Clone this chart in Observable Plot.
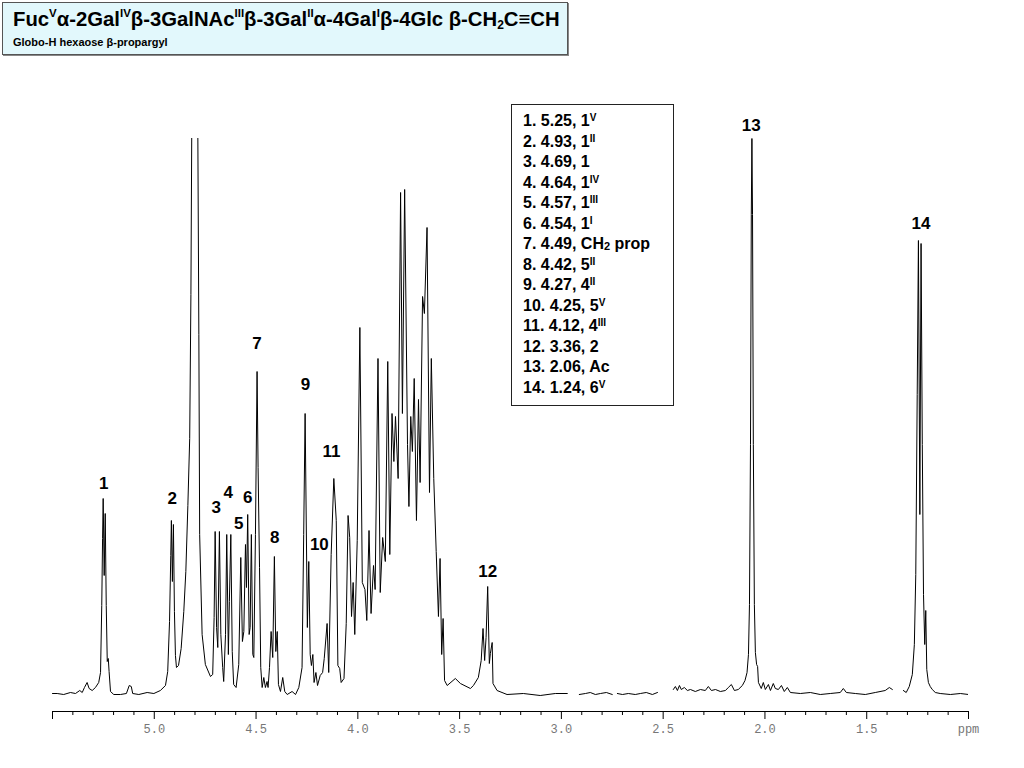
<!DOCTYPE html>
<html>
<head>
<meta charset="utf-8">
<script src="https://cdn.jsdelivr.net/npm/d3@7"></script>
<script src="https://cdn.jsdelivr.net/npm/@observablehq/plot@0.6"></script>
<style>
  html, body { margin: 0; padding: 0; background: #fff; }
  #wrap { position: relative; width: 1024px; height: 768px; overflow: hidden; }
  #chart { position: absolute; left: 0; top: 0; }
  #titlebox {
    position: absolute; left: 2px; top: 2px; width: 564px; height: 51px;
    background: #e2f8fc; border: 1px solid #555; box-shadow: 1px 1px 0 #888;
    font-family: "Liberation Sans", Arial, sans-serif; color: #000;
  }
  #title { position: absolute; left: 10px; top: 5px; font-weight: bold; font-size: 20.3px; white-space: nowrap; }
  #title sup { font-size: 11.5px; vertical-align: 9px; line-height: 0; }
  #title sub { font-size: 12px; vertical-align: -3px; line-height: 0; }
  #subtitle { position: absolute; left: 10px; top: 33px; font-weight: bold; font-size: 11px; white-space: nowrap; }
  #legend {
    position: absolute; left: 511px; top: 104px; width: 150px; height: 294px;
    border: 1px solid #222; background: #fff; padding: 6px 0 0 11px; box-sizing: content-box;
    font-family: "Liberation Sans", Arial, sans-serif; font-weight: bold; font-size: 16px; color: #000;
  }
  #legend div { height: 20.5px; line-height: 20.5px; white-space: nowrap; }
  #legend sup { font-size: 10px; vertical-align: 5px; line-height: 0; }
  #legend sub { font-size: 11px; vertical-align: -1px; line-height: 0; }
</style>
</head>
<body>
<div id="wrap">
  <div id="chart"></div>
  <div id="titlebox"><div id="title"></div><div id="subtitle"></div></div>
  <div id="legend"></div>
</div>
<script>
// ---------- text ----------
const titleHtml = 'Fuc<sup>V</sup>α-2Gal<sup>IV</sup>β-3GalNAc<sup>III</sup>β-3Gal<sup>II</sup>α-4Gal<sup>I</sup>β-4Glc β-CH<sub>2</sub>C≡CH';
const subtitleText = 'Globo-H hexaose β-propargyl';

// ---------- legend (peak assignments) ----------
const legendNumbers = [1, 2, 3, 4, 5, 6, 7, 8, 9, 10, 11, 12, 13, 14];
const legendShifts = ["5.25", "4.93", "4.69", "4.64", "4.57", "4.54", "4.49", "4.42", "4.27", "4.25", "4.12", "3.36", "2.06", "1.24"];
const legendAtoms = ["1", "1", "1", "1", "1", "1", "CH<sub>2</sub> prop", "5", "4", "5", "4", "2", "Ac", "6"];
const legendResidues = ["V", "II", "", "IV", "III", "I", "", "II", "II", "V", "III", "", "", "V"];

// ---------- peak labels on the spectrum ----------
const peakLabels = ["1", "2", "3", "4", "5", "6", "7", "8", "9", "10", "11", "12", "13", "14"];
const peakLabelPpm = [5.248, 4.912, 4.696, 4.637, 4.585, 4.541, 4.495, 4.408, 4.257, 4.189, 4.130, 3.362, 2.067, 1.233];
const peakLabelHeight = [211, 196, 187, 202, 171, 197, 351, 157, 310, 150, 243, 123, 569, 471];

// ---------- axis ticks ----------
const majorTicks = [5.5, 5.0, 4.5, 4.0, 3.5, 3.0, 2.5, 2.0, 1.5, 1.0];
const majorTickLabels = ["", "5.0", "4.5", "4.0", "3.5", "3.0", "2.5", "2.0", "1.5", "ppm"];
const minorTicks = [5.4, 5.3, 5.2, 5.1, 4.9, 4.8, 4.7, 4.6, 4.4, 4.3, 4.2, 4.1, 3.9, 3.8, 3.7, 3.6,
  3.4, 3.3, 3.2, 3.1, 2.9, 2.8, 2.7, 2.6, 2.4, 2.3, 2.2, 2.1, 1.9, 1.8, 1.7, 1.6, 1.4, 1.3, 1.2, 1.1];

// ---------- spectrum trace, [ppm, intensity] ----------
const traceSugarRegion = [
  [5.500, 1], [5.477, 1], [5.445, 0], [5.412, 2], [5.387, 1], [5.366, 4], [5.354, 2], [5.343, 7],
  [5.330, 12], [5.320, 6], [5.305, 4], [5.289, 7], [5.273, 12], [5.264, 22], [5.258, 89], [5.254, 156],
  [5.251, 196], [5.246, 119], [5.241, 181], [5.236, 89], [5.231, 33], [5.226, 36], [5.222, 23], [5.215, 3],
  [5.199, 0], [5.166, 0], [5.137, 1], [5.123, 9], [5.113, 8], [5.106, 1], [5.076, 0], [5.035, 2],
  [5.002, 1], [4.970, 4], [4.945, 9], [4.934, 23], [4.925, 73], [4.919, 139], [4.916, 174], [4.911, 113],
  [4.906, 170], [4.901, 83], [4.896, 39], [4.891, 27], [4.881, 29], [4.868, 46], [4.855, 83], [4.845, 123],
  [4.835, 189], [4.826, 256], [4.820, 400], [4.816, 560], [4.800, 3000], [4.786, 560], [4.781, 360], [4.777, 160],
  [4.765, 60], [4.749, 30], [4.724, 18], [4.713, 20], [4.706, 77], [4.701, 163], [4.694, 67], [4.688, 47],
  [4.680, 163], [4.673, 60], [4.664, 27], [4.659, 13], [4.650, 60], [4.644, 160], [4.636, 40], [4.631, 93],
  [4.624, 160], [4.617, 43], [4.610, 10], [4.598, 7], [4.585, 30], [4.575, 137], [4.567, 53], [4.560, 63],
  [4.552, 150], [4.547, 107], [4.541, 180], [4.534, 60], [4.529, 67], [4.523, 160], [4.516, 40], [4.511, 37],
  [4.503, 160], [4.495, 323], [4.490, 227], [4.483, 127], [4.477, 27], [4.470, 7], [4.462, 17], [4.454, 7],
  [4.446, 13], [4.441, 7], [4.434, 27], [4.426, 63], [4.418, 37], [4.410, 138], [4.403, 43], [4.396, 63],
  [4.390, 10], [4.380, 3], [4.369, 17], [4.359, 3], [4.347, 0], [4.323, 3], [4.306, 0], [4.290, 7],
  [4.274, 27], [4.266, 160], [4.259, 281], [4.248, 67], [4.241, 133], [4.234, 40], [4.228, 29], [4.221, 40],
  [4.215, 12], [4.206, 22], [4.198, 9], [4.185, 19], [4.173, 22], [4.165, 36], [4.151, 71], [4.143, 22],
  [4.131, 140], [4.118, 216], [4.106, 174], [4.098, 29], [4.089, 26], [4.082, 12], [4.068, 16], [4.057, 71],
  [4.048, 179], [4.040, 157], [4.031, 78], [4.023, 112], [4.015, 60], [4.003, 154], [3.990, 367], [3.978, 112],
  [3.965, 105], [3.956, 74], [3.945, 164], [3.935, 81], [3.923, 129], [3.915, 105], [3.901, 336], [3.890, 102],
  [3.878, 157], [3.865, 133], [3.853, 333], [3.843, 140], [3.832, 281], [3.823, 233], [3.815, 278], [3.802, 216],
  [3.790, 502], [3.781, 281], [3.770, 505], [3.756, 250], [3.749, 188], [3.740, 278], [3.732, 243], [3.723, 316],
  [3.712, 174], [3.702, 295], [3.694, 212], [3.682, 398], [3.673, 381], [3.660, 467], [3.648, 202], [3.639, 336],
  [3.627, 216], [3.615, 143], [3.604, 78], [3.596, 136], [3.588, 40], [3.581, 76], [3.574, 14], [3.561, 9],
  [3.521, 16], [3.496, 11], [3.447, 6], [3.432, 9], [3.408, 17], [3.394, 34], [3.385, 66], [3.377, 34],
  [3.370, 57], [3.362, 108], [3.354, 31], [3.349, 41], [3.340, 52], [3.336, 11], [3.316, 4], [3.267, 0],
  [3.187, 1], [3.104, -1], [3.030, 1], [2.971, 1]
];
const traceBaseline1 = [[2.912, 0], [2.882, 1], [2.858, 2], [2.833, 0], [2.808, 1], [2.779, 2], [2.750, 0]];
const traceBaseline2 = [[2.725, 1], [2.700, 0], [2.671, 1], [2.637, 0], [2.612, 1], [2.583, 2], [2.553, 0], [2.528, 2]];
const traceAcetyl = [
  [2.450, 5], [2.440, 8], [2.430, 4], [2.420, 9], [2.411, 5], [2.396, 7], [2.381, 4], [2.366, 5],
  [2.342, 3], [2.317, 5], [2.293, 4], [2.278, 8], [2.263, 4], [2.243, 5], [2.219, 3], [2.194, 4],
  [2.180, 7], [2.165, 10], [2.150, 4], [2.131, 5], [2.111, 9], [2.098, 14], [2.088, 22], [2.081, 40],
  [2.076, 90], [2.071, 250], [2.067, 480], [2.064, 556], [2.061, 480], [2.057, 250], [2.052, 90], [2.047, 42],
  [2.041, 30], [2.036, 28], [2.032, 12], [2.018, 6], [2.008, 12], [1.998, 5], [1.983, 10], [1.973, 4],
  [1.959, 11], [1.949, 6], [1.934, 5], [1.919, 9], [1.905, 3], [1.890, 7], [1.875, 2], [1.826, 1],
  [1.777, 2], [1.728, 0], [1.679, 1], [1.630, 2], [1.615, 6], [1.600, 2], [1.556, 1], [1.507, 0],
  [1.458, 2], [1.409, 4], [1.389, 7], [1.374, 5]
];
const traceMethyl = [
  [1.320, 4], [1.306, 2], [1.291, 8], [1.276, 20], [1.266, 50], [1.259, 120], [1.252, 300], [1.246, 454],
  [1.239, 180], [1.233, 451], [1.227, 250], [1.221, 100], [1.215, 50], [1.210, 84], [1.205, 25], [1.197, 12],
  [1.188, 8], [1.178, 5], [1.163, 2], [1.139, 1], [1.089, 0], [1.040, 1], [1.000, 0]
];

// ---------- build tables ----------
const segments = [traceSugarRegion, traceBaseline1, traceBaseline2, traceAcetyl, traceMethyl];
const spectrum = segments.flatMap((seg, i) => seg.map(([ppm, intensity]) => ({ppm, intensity, seg: i})));
const labels = peakLabels.map((label, i) => ({label, ppm: peakLabelPpm[i], h: peakLabelHeight[i]}));
const labelOf = new Map(majorTicks.map((t, i) => [t, majorTickLabels[i]]));

// title + legend
document.getElementById("title").innerHTML = titleHtml;
document.getElementById("subtitle").textContent = subtitleText;
document.getElementById("legend").innerHTML = legendNumbers.map((n, i) =>
  `<div>${n}. ${legendShifts[i]}, ${legendAtoms[i]}${legendResidues[i] ? `<sup>${legendResidues[i]}</sup>` : ""}</div>`
).join("");

const axisBottom = -17; // axis line sits a little below the spectrum baseline

const chart = Plot.plot({
  width: 1024,
  height: 768,
  marginLeft: 52,
  marginRight: 56,
  marginTop: 138,
  marginBottom: 57,
  style: {fontFamily: "'Liberation Sans', Arial, sans-serif", background: "#fff"},
  x: {domain: [5.5, 1.0], axis: null, label: null},
  y: {domain: [axisBottom, 556], axis: null, label: null},
  marks: [
    Plot.ruleY([axisBottom], {stroke: "#000", strokeWidth: 1}),
    Plot.axisX({ticks: minorTicks, tickSize: 4, tickFormat: () => "", label: null, stroke: "#000"}),
    Plot.axisX({
      ticks: majorTicks, tickSize: 8, tickPadding: 5, label: null, stroke: "#000", fill: "#777",
      tickFormat: d => labelOf.get(d), fontFamily: "'Liberation Mono', 'Courier New', monospace", fontSize: 12
    }),
    Plot.line(spectrum, {x: "ppm", y: "intensity", z: "seg", stroke: "#000", strokeWidth: 1, clip: true}),
    Plot.text(labels, {x: "ppm", y: "h", text: "label", fontWeight: "bold", fontSize: 17, fill: "#000"})
  ]
});
document.getElementById("chart").appendChild(chart);
</script>
</body>
</html>
